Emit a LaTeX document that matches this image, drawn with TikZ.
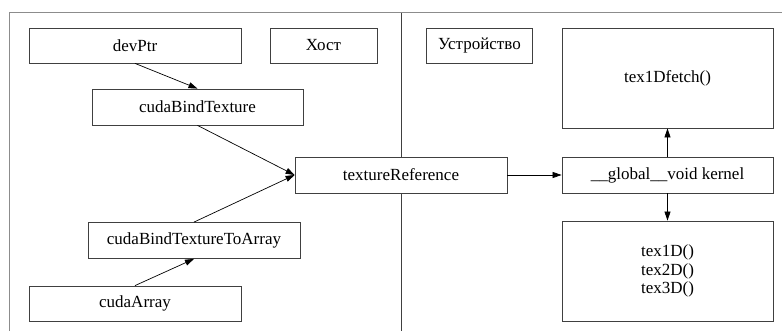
\documentclass[tikz,border=0pt]{standalone}
\usepackage{fontspec}
\setmainfont{Liberation Serif}
\usetikzlibrary{arrows.meta}
\begin{document}
\begin{tikzpicture}[x=1pt,y=-1pt,
  box/.style={draw=black!75,fill=white,line width=0.8pt,inner sep=0pt,font=\fontsize{17}{18.5}\selectfont,align=center},
  conn/.style={-{Triangle[length=9pt,width=6pt]},line width=0.7pt},
  frame/.style={draw=black!45,line width=1pt}]
\useasboundingbox (0,0) rectangle (782,331);
\draw[frame] (9.5,331) -- (9.5,13) -- (782,13);
\draw[black!75,line width=1pt] (401,13) -- (401,331);
\node[box,minimum width=212pt,minimum height=35pt] (devptr) at (135,45.5) {devPtr};
\node[box,minimum width=107pt,minimum height=35pt] (host) at (323.5,45.5) {Хост};
\node[box,minimum width=211pt,minimum height=36pt] (cbt) at (197.5,107) {cudaBindTexture};
\node[box,minimum width=212pt,minimum height=36pt] (texref) at (401,175) {textureReference};
\node[box,minimum width=212pt,minimum height=36pt] (cbta) at (194,240.5) {cudaBindTextureToArray};
\node[box,minimum width=212pt,minimum height=35pt] (carr) at (135,303.5) {cudaArray};
\node[box,minimum width=106pt,minimum height=35pt] (dev) at (479.5,45.5) {Устройство};
\node[box,minimum width=211pt,minimum height=100pt] (fetch) at (667.5,78) {tex1Dfetch()};
\node[box,minimum width=211pt,minimum height=36pt] (kernel) at (667.5,175) {\_\_global\_\_void kernel};
\node[box,minimum width=211pt,minimum height=100pt] (tex) at (667.5,271) {tex1D()\\tex2D()\\tex3D()};
\draw[conn] (devptr.south) -- (cbt.north);
\draw[conn] (cbt.south) -- (texref.west);
\draw[conn] (cbta.north) -- (texref.west);
\draw[conn] (carr.north) -- (cbta.south);
\draw[conn] (texref.east) -- (kernel.west);
\draw[conn] (kernel.north) -- (fetch.south);
\draw[conn] (kernel.south) -- (tex.north);
\end{tikzpicture}
\end{document}
